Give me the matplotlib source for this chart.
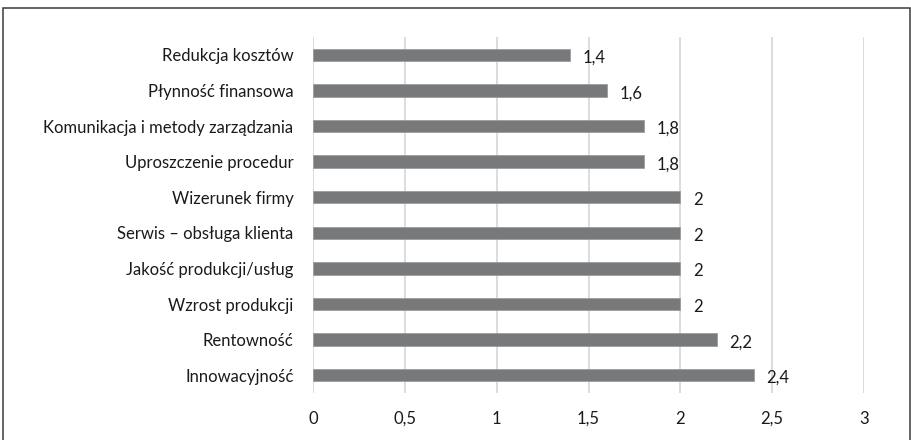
import matplotlib
matplotlib.use("Agg")
import matplotlib.pyplot as plt
from matplotlib.patches import Rectangle

categories = ["Innowacyjność", "Rentowność", "Wzrost produkcji", "Jakość produkcji/usług",
              "Serwis – obsługa klienta", "Wizerunek firmy", "Uproszczenie procedur",
              "Komunikacja i metody zarządzania", "Płynność finansowa", "Redukcja kosztów"]
values = [2.4, 2.2, 2, 2, 2, 2, 1.8, 1.8, 1.6, 1.4]
xticks = [0, 0.5, 1, 1.5, 2, 2.5, 3]
xticklabels = ["0", "0,5", "1", "1,5", "2", "2,5", "3"]

plt.rcParams['font.family'] = ['Lato', 'DejaVu Sans']

fig = plt.figure(figsize=(9.12, 4.4), dpi=100)
ax = fig.add_axes([313/912, 1-393/440, (864-313)/912, (393-37)/440])

ypos = list(range(len(categories)))
ax.barh(ypos, values, height=0.35, color="#77797b", edgecolor="#9a9c9e", linewidth=0.6, zorder=3)
for y, v in zip(ypos, values):
    lbl = ("%g" % v).replace(".", ",")
    ax.annotate(lbl, (v, y), xytext=(9, -2), textcoords="offset points",
                ha="left", va="center", fontsize=12, color="#1a1a1a")

ax.set_xlim(0, 3)
ax.set_ylim(-0.5, len(categories) - 0.5)
ax.set_xticks(xticks)
ax.set_xticklabels(xticklabels)
ax.set_yticks(ypos)
ax.set_yticklabels(categories)
ax.tick_params(axis="both", length=0, labelsize=12, labelcolor="#1a1a1a")
ax.tick_params(axis="x", pad=13)
ax.tick_params(axis="y", pad=14)
ax.grid(axis="x", color="#d9d9d9", linewidth=1.3, zorder=0)
for s in ax.spines.values():
    s.set_visible(False)

fig.patches.append(Rectangle((3.5/912, -10/440), 906.5/912, (432 + 10)/440, transform=fig.transFigure,
                             fill=False, edgecolor="#3a3a3a", linewidth=1.1))

fig.savefig("out.png", dpi=100)
